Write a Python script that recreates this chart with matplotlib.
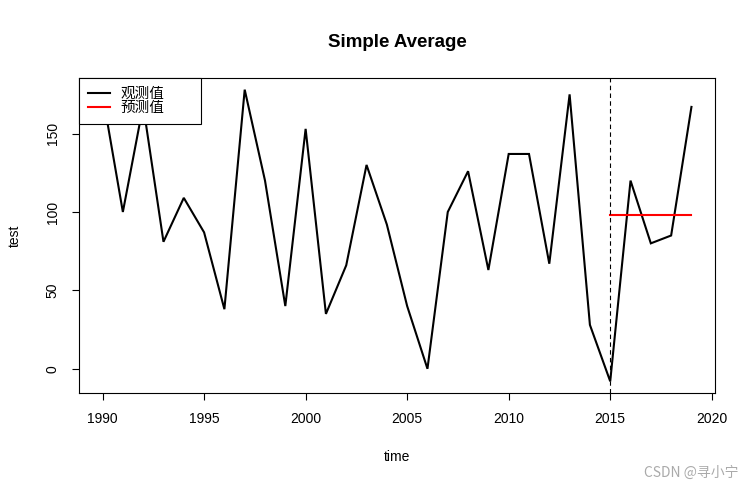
import matplotlib
matplotlib.use("Agg")
import matplotlib.pyplot as plt
from matplotlib.lines import Line2D

years = [1990, 1991, 1992, 1993, 1994, 1995, 1996, 1997, 1998, 1999,
         2000, 2001, 2002, 2003, 2004, 2005, 2006, 2007, 2008, 2009,
         2010, 2011, 2012, 2013, 2014, 2015, 2016, 2017, 2018, 2019]
observed = [175, 100, 168, 81, 109, 87, 38, 178, 120, 40,
            153, 35, 66, 130, 92, 40, 0, 100, 126, 63,
            137, 137, 67, 175, 28, -8, 120, 80, 85, 167]
fc_years = [2015, 2016, 2017, 2018, 2019]
forecast = [98, 98, 98, 98, 98]
split_year = 2015
x_ticks = [1990, 1995, 2000, 2005, 2010, 2015, 2020]
y_ticks = [0, 50, 100, 150]
legend_labels = ["观测值", "预测值"]

plt.rcParams['font.family'] = ['Liberation Sans', 'Noto Sans CJK SC', 'DejaVu Sans']

fig = plt.figure(figsize=(7.55, 4.90), dpi=100)
ax = fig.add_axes([79/755, 97/490, (715-79)/755, (393-78)/490])

ax.plot(years, observed, color='black', lw=1.5, solid_joinstyle='miter')
ax.plot(fc_years, forecast, color='red', lw=1.5)
ax.margins(x=0.04, y=0.04)
ax.axvline(split_year, color='black', lw=0.8, ls=(0, (4, 3)))

ax.set_xticks(x_ticks)
ax.set_yticks(y_ticks)
ax.set_yticklabels([str(v) for v in y_ticks], rotation=90, va='center')
ax.tick_params(direction='out', length=5, width=0.8, labelsize=10, pad=9)
for s in ax.spines.values():
    s.set_linewidth(0.8)

ax.set_xlabel("time", fontsize=10, labelpad=17)
ax.set_ylabel("test", fontsize=10, labelpad=17)
ax.set_title("Simple Average", fontsize=13.5, fontweight='bold', pad=22)

handles = [Line2D([], [], color='black', lw=1.5), Line2D([], [], color='red', lw=1.5)]
leg_w = (201 - 79) / 636
leg_h = (124 - 78) / 315
leg = ax.legend(handles, legend_labels, loc='upper left',
                bbox_to_anchor=(0, 1 - leg_h, leg_w, leg_h), mode='expand',
                borderaxespad=0,
                fancybox=False, framealpha=1, edgecolor='black',
                prop={'family': ['Noto Sans CJK SC', 'DejaVu Sans'], 'size': 10.5},
                handlelength=1.5, labelspacing=0.02, borderpad=0.62,
                handletextpad=0.75)
leg.get_frame().set_linewidth(0.8)
for t in leg.get_texts():
    t.set_color('black')

fig.text(0.978, 0.035, "CSDN @寻小宁", ha='right', va='center', fontsize=10,
         color='#aaaaaa', family=['Noto Sans CJK SC', 'DejaVu Sans'])

fig.savefig("out.png", dpi=100)
